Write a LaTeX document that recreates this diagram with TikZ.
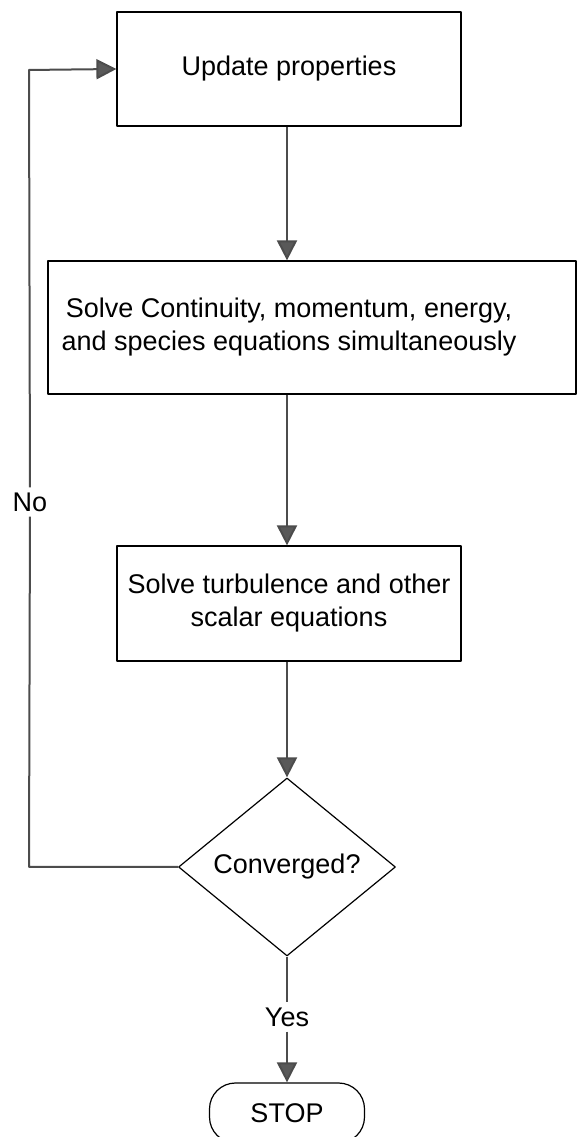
\documentclass[tikz,border=0pt]{standalone}
\usepackage{fontspec}
\setmainfont{Liberation Sans}
\usetikzlibrary{arrows.meta,shapes.geometric}
\begin{document}
\begin{tikzpicture}[>={Triangle[length=20bp,width=20bp,fill=gray!70!black]},line join=bevel,
  font=\fontsize{27bp}{33bp}\selectfont,
  box/.style={draw=black,line width=1.2bp,rectangle,inner sep=0pt,align=center},
  flow/.style={draw=gray!60!black,line width=2bp},
  tag/.style={inner sep=5bp,fill=none}]
\useasboundingbox (0bp,0bp) rectangle (577bp,1137bp);
%%
\node (upd) at (289bp,1068bp) [box,minimum width=344bp,minimum height=114bp] {Update properties};
  \node (coup) at (312bp,809.5bp) [box,minimum width=528bp,minimum height=133bp,
    label={[xshift=-23bp,align=center]center:Solve Continuity, momentum, energy,\\and species equations simultaneously}] {};
  \node (turb) at (289bp,533.5bp) [box,minimum width=344bp,minimum height=115bp] {Solve turbulence and other\\scalar equations};
  \node (conv) at (287bp,270bp) [box,shape=diamond,minimum width=217bp,minimum height=178bp] {Converged?};
  \node (stop) at (287bp,24bp) [box,rounded corners=26bp,minimum width=155bp,minimum height=60bp] {STOP};
  \node (yes) at (287bp,120bp) [tag] {Yes};
  \node (no) at (30bp,635bp) [tag] {No};
  \coordinate (loopb) at (29bp,270bp);
  \coordinate (loopt) at (29bp,1067bp);
  \draw [->,flow] (upd.south -| conv) -- (conv |- coup.north);
  \draw [->,flow] (coup.south -| conv) -- (conv |- turb.north);
  \draw [->,flow] (turb.south -| conv) -- (conv);
  \draw [flow] (conv) -- (yes);
  \draw [->,flow] (yes) -- (stop);
  \draw [flow] (conv.west) -- (loopb) -- (no);
  \draw [->,flow] (no) -- (loopt) -- (upd.west);
%
\end{tikzpicture}
\end{document}
